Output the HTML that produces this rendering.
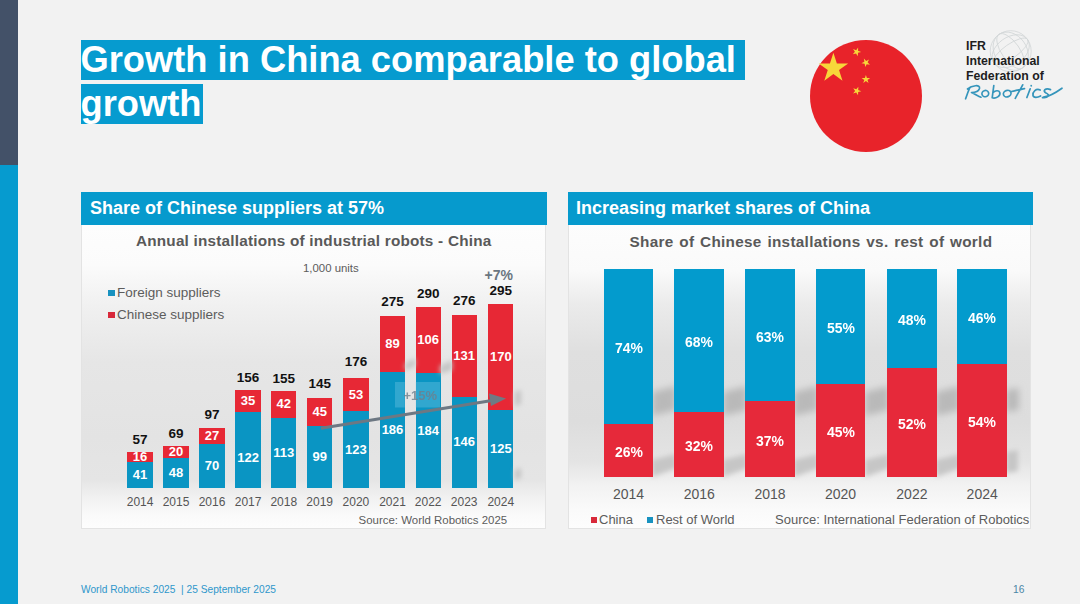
<!DOCTYPE html>
<html><head><meta charset="utf-8">
<style>
*{margin:0;padding:0;box-sizing:border-box}
html,body{width:1080px;height:604px;overflow:hidden;background:#f2f2f2;font-family:"Liberation Sans",sans-serif}
.abs{position:absolute}
#lbar1{left:0;top:0;width:18px;height:165px;background:#435168}
#lbar2{left:0;top:165px;width:18px;height:439px;background:#069bcf}
.ttl{left:81.3px;font-weight:bold;font-size:36.3px;line-height:40px;height:40px;color:#fff;white-space:nowrap}
.ttl span{background:#069bcf;display:inline-block;vertical-align:top;height:40px;line-height:40px;padding-left:0;text-indent:-0.8px}
.hdr{top:192px;height:32.5px;background:#069acd;color:#fff;font-weight:bold;font-size:18px;line-height:32px;white-space:nowrap}
.panel{top:224.5px;height:304.3px;border:1.5px solid #e3e3e3;border-top:none}
#pl{background:linear-gradient(180deg,#fdfdfd 0%,#fbfbfb 13%,#f0f0f0 27%,#e6e6e6 45%,#e3e3e3 70%,#e5e5e5 84%,#f1f1f1 90%,#fafafa 96%,#fdfdfd 100%)}
#pr{background:linear-gradient(180deg,#fdfdfd 0%,#fafafa 15%,#ebebeb 26%,#dfdfdf 42%,#dddddd 65%,#e4e4e4 78%,#f2f2f2 86%,#fafafa 94%,#fdfdfd 100%)}
.t{position:absolute;white-space:nowrap}
.foot{top:584px;font-size:10.2px;color:#2f97cb}
.bar{position:absolute}
.lv,.lt,.ly,.rv,.ry{position:absolute;width:40px;text-align:center;line-height:16px;white-space:nowrap}
.lv{color:#fff;font-weight:bold;font-size:13px}
.lt{color:#111;font-weight:bold;font-size:13.5px}
.ly{color:#555;font-size:12px}
.rv{width:60px;color:#fff;font-weight:bold;font-size:15px;transform:scaleX(0.93)}
.ry{width:60px;color:#555;font-size:14px}
.ctitle{color:#595959;font-weight:bold;font-size:15.3px}
.cs{color:#5c5c5c;font-size:13px}
.sq{position:absolute;width:6px;height:6px}
</style></head><body>
<div id="lbar1" class="abs"></div>
<div id="lbar2" class="abs"></div>

<div class="abs ttl" style="top:40px"><span style="width:663.5px">Growth in China comparable to global</span></div>
<div class="abs ttl" style="top:84px"><span style="width:121.5px">growth</span></div>

<!-- flag -->
<svg class="abs" style="left:800px;top:30px" width="132" height="132" viewBox="800 30 132 132">
<defs><polygon id="st" points="0,-1 0.2245,-0.309 0.9511,-0.309 0.3633,0.118 0.5878,0.809 0,0.382 -0.5878,0.809 -0.3633,0.118 -0.9511,-0.309 -0.2245,-0.309"/></defs>
<circle cx="866" cy="96" r="56" fill="#e8232a"/>
<use href="#st" transform="translate(833.4,68.2) scale(15.5)" fill="#f7d73a"/>
<use href="#st" transform="translate(856.6,51.8) rotate(20) scale(4.5)" fill="#f7d73a"/>
<use href="#st" transform="translate(865.9,62.6) rotate(45) scale(4.5)" fill="#f7d73a"/>
<use href="#st" transform="translate(865.9,79.4) rotate(0) scale(4.5)" fill="#f7d73a"/>
<use href="#st" transform="translate(856.8,91) rotate(20) scale(4.5)" fill="#f7d73a"/>
</svg>

<!-- IFR logo -->
<svg class="abs" style="left:960px;top:25px" width="110" height="85" viewBox="960 25 110 85">
<g fill="none" stroke="#d2d6d7" stroke-width="0.8">
<circle cx="1010.7" cy="51.2" r="20.5"/>
<ellipse cx="1010.7" cy="51.2" rx="9" ry="20.5" transform="rotate(-35 1010.7 51.2)"/>
<ellipse cx="1010.7" cy="51.2" rx="16" ry="20.5" transform="rotate(-35 1010.7 51.2)"/>
<ellipse cx="1010.7" cy="51.2" rx="20.5" ry="7" transform="rotate(-35 1010.7 51.2)"/>
<ellipse cx="1010.7" cy="51.2" rx="20.5" ry="14" transform="rotate(-35 1010.7 51.2)"/>
</g>
<g fill="none" stroke="#3595bb" stroke-width="1.7" stroke-linecap="round" stroke-linejoin="round">
<path d="M965.6 98.8 C967 95 968.5 90 970.2 87.1 M967.5 89 C972 85.5 980.5 84 979.5 88.5 C978.5 91.5 974 92.5 971.5 92.5 C975 94 978 96 981 97.2"/>
<ellipse cx="985.3" cy="93.6" rx="3.4" ry="3.1" transform="rotate(-20 985.3 93.6)"/>
<path d="M993.8 85.5 L992.2 97.8 C996 98.8 1000.8 96 999.8 92.5 C998.8 89.8 995.2 90.5 993.2 92.5"/>
<ellipse cx="1007.2" cy="93.6" rx="3.9" ry="3.2" transform="rotate(-20 1007.2 93.6)"/>
<path d="M1022.7 84.8 C1020 90 1017 95 1015.3 98.3 M1011.5 91.5 C1016 90.5 1021 89.2 1024.5 88.6"/>
<path d="M1030.2 88.8 L1026.9 97.5 M1031.2 85.6 L1031.3 85.8"/>
<path d="M1040.2 90 C1036 88 1032.5 92 1033 95.5 C1033.5 98 1037.5 97.6 1040.6 96"/>
<path d="M1050.5 89.6 C1045.5 87.5 1042 91 1046 93 C1050.5 95 1048 98.3 1042.5 97.6 M1043.5 97.2 C1050 96.2 1056 92.5 1062 88.2"/>
</g>
</svg>
<div class="t" style="left:966px;top:38.5px;font-weight:bold;font-size:12.3px;line-height:15px;color:#1e1e1e">IFR<br>International<br>Federation of</div>

<!-- left panel -->
<div class="abs hdr" style="left:81px;width:466px;padding-left:9px">Share of Chinese suppliers at 57%</div>
<div id="pl" class="abs panel" style="left:81px;width:465px"></div>
<div class="t ctitle" style="left:136px;top:231.5px;word-spacing:0.1px;letter-spacing:0.2px">Annual installations of industrial robots - China</div>
<div class="t cs" style="left:303px;top:261.7px;font-size:11.4px">1,000 units</div>
<div class="sq" style="left:108px;top:289.5px;width:6.5px;height:6.5px;background:#1892c0"></div>
<div class="t cs" style="left:117px;top:284.5px;font-size:13.5px">Foreign suppliers</div>
<div class="sq" style="left:108px;top:311.5px;width:6.5px;height:6.5px;background:#d8293a"></div>
<div class="t cs" style="left:117px;top:306.5px;font-size:13.5px">Chinese suppliers</div>
<div class="t" style="left:484.5px;top:267px;font-size:14px;font-weight:bold;color:#6a7580">+7%</div>
<div class="bar" style="left:127.4px;top:452.4px;width:25.4px;height:12px;background:#e72835"></div>
<div class="bar" style="left:127.4px;top:462.4px;width:25.4px;height:25.6px;background:#0a95c3"></div>
<div class="lv" style="left:120.1px;top:467.2px">41</div>
<div class="lv" style="left:120.1px;top:449.4px">16</div>
<div class="lt" style="left:120.1px;top:432.2px">57</div>
<div class="ly" style="left:120.1px;top:494.2px">2014</div>
<div class="bar" style="left:163.3px;top:445.6px;width:25.4px;height:14.5px;background:#e72835"></div>
<div class="bar" style="left:163.3px;top:458px;width:25.4px;height:30px;background:#0a95c3"></div>
<div class="lv" style="left:156px;top:465px">48</div>
<div class="lv" style="left:156px;top:443.8px">20</div>
<div class="lt" style="left:156px;top:425.7px">69</div>
<div class="ly" style="left:156px;top:494.2px">2015</div>
<div class="bar" style="left:199.3px;top:427.5px;width:25.4px;height:18.8px;background:#e72835"></div>
<div class="bar" style="left:199.3px;top:444.3px;width:25.4px;height:43.7px;background:#0a95c3"></div>
<div class="lv" style="left:192px;top:458.2px">70</div>
<div class="lv" style="left:192px;top:427.9px">27</div>
<div class="lt" style="left:192px;top:407.2px">97</div>
<div class="ly" style="left:192px;top:494.2px">2016</div>
<div class="bar" style="left:235.4px;top:390px;width:25.4px;height:23.8px;background:#e72835"></div>
<div class="bar" style="left:235.4px;top:411.9px;width:25.4px;height:76.1px;background:#0a95c3"></div>
<div class="lv" style="left:228.1px;top:449.7px">122</div>
<div class="lv" style="left:228.1px;top:393px">35</div>
<div class="lt" style="left:228.1px;top:370px">156</div>
<div class="ly" style="left:228.1px;top:494.2px">2017</div>
<div class="bar" style="left:271.1px;top:391.3px;width:25.4px;height:28.2px;background:#e72835"></div>
<div class="bar" style="left:271.1px;top:417.5px;width:25.4px;height:70.5px;background:#0a95c3"></div>
<div class="lv" style="left:263.8px;top:444.7px">113</div>
<div class="lv" style="left:263.8px;top:396.4px">42</div>
<div class="lt" style="left:263.8px;top:370.6px">155</div>
<div class="ly" style="left:263.8px;top:494.2px">2018</div>
<div class="bar" style="left:307px;top:398.1px;width:25.4px;height:30.1px;background:#e72835"></div>
<div class="bar" style="left:307px;top:426.2px;width:25.4px;height:61.8px;background:#0a95c3"></div>
<div class="lv" style="left:299.7px;top:449.1px">99</div>
<div class="lv" style="left:299.7px;top:404.2px">45</div>
<div class="lt" style="left:299.7px;top:375.7px">145</div>
<div class="ly" style="left:299.7px;top:494.2px">2019</div>
<div class="bar" style="left:343.2px;top:378.2px;width:25.4px;height:35.1px;background:#e72835"></div>
<div class="bar" style="left:343.2px;top:411.2px;width:25.4px;height:76.8px;background:#0a95c3"></div>
<div class="lv" style="left:335.9px;top:441.6px">123</div>
<div class="lv" style="left:335.9px;top:386.7px">53</div>
<div class="lt" style="left:335.9px;top:354.4px">176</div>
<div class="ly" style="left:335.9px;top:494.2px">2020</div>
<div class="bar" style="left:379.8px;top:316.4px;width:25.4px;height:57.5px;background:#e72835"></div>
<div class="bar" style="left:379.8px;top:371.9px;width:25.4px;height:116.1px;background:#0a95c3"></div>
<div class="lv" style="left:372.5px;top:422px">186</div>
<div class="lv" style="left:372.5px;top:336.2px">89</div>
<div class="lt" style="left:372.5px;top:293.7px">275</div>
<div class="ly" style="left:372.5px;top:494.2px">2021</div>
<div class="bar" style="left:415.5px;top:307px;width:25.4px;height:68.1px;background:#e72835"></div>
<div class="bar" style="left:415.5px;top:373.2px;width:25.4px;height:114.8px;background:#0a95c3"></div>
<div class="lv" style="left:408.2px;top:422.6px">184</div>
<div class="lv" style="left:408.2px;top:332.1px">106</div>
<div class="lt" style="left:408.2px;top:285.6px">290</div>
<div class="ly" style="left:408.2px;top:494.2px">2022</div>
<div class="bar" style="left:451.5px;top:315.2px;width:25.4px;height:83.7px;background:#e72835"></div>
<div class="bar" style="left:451.5px;top:396.9px;width:25.4px;height:91.1px;background:#0a95c3"></div>
<div class="lv" style="left:444.2px;top:434.4px">146</div>
<div class="lv" style="left:444.2px;top:348px">131</div>
<div class="lt" style="left:444.2px;top:292.5px">276</div>
<div class="ly" style="left:444.2px;top:494.2px">2023</div>
<div class="bar" style="left:488.1px;top:303.9px;width:25.4px;height:108.1px;background:#e72835"></div>
<div class="bar" style="left:488.1px;top:410px;width:25.4px;height:78px;background:#0a95c3"></div>
<div class="lv" style="left:480.8px;top:441px">125</div>
<div class="lv" style="left:480.8px;top:349px">170</div>
<div class="lt" style="left:480.8px;top:282.6px">295</div>
<div class="ly" style="left:480.8px;top:494.2px">2024</div>
<svg class="abs" style="left:0;top:0" width="1080" height="604">
<rect x="395" y="382" width="9.8" height="25.5" fill="#8fd0ea" fill-opacity="0.3"/><rect x="415.5" y="382" width="24.5" height="25.5" fill="#8fd0ea" fill-opacity="0.3"/>
<line x1="321" y1="428.2" x2="492" y2="400.5" stroke="#6d7883" stroke-width="3.1"/>
<polygon points="506,398.5 489,393.5 491,406" fill="#6f7a84"/>
</svg>
<div class="t" style="left:403.5px;top:388px;font-size:13px;color:#6f7f8c;opacity:0.8;font-weight:bold">+15%</div>
<div class="t cs" style="left:358.6px;top:514px;font-size:11.45px">Source: World Robotics 2025</div>

<!-- right panel -->
<div class="abs hdr" style="left:568px;width:465px;padding-left:8px">Increasing market shares of China</div>
<div id="pr" class="abs panel" style="left:568px;width:463px"></div>
<div class="t ctitle" style="left:629.5px;top:233px;word-spacing:1.2px;letter-spacing:0.3px">Share of Chinese installations vs. rest of world</div>
<svg class="abs" style="left:0;top:0" width="1080" height="604">
<defs><filter id="bl" x="-50%" y="-50%" width="200%" height="200%"><feGaussianBlur stdDeviation="3.5"/></filter>
<filter id="bl2" x="-50%" y="-50%" width="200%" height="200%"><feGaussianBlur stdDeviation="2.5"/></filter></defs>
<g filter="url(#bl)" fill="#b9b9b9">
<polygon points="652,392 676,386 676,410 652,416"/>
<polygon points="723,392 747,386 747,410 723,416"/>
<polygon points="794,392 818,386 818,410 794,416"/>
<polygon points="865,392 889,386 889,410 865,416"/>
<polygon points="936,392 960,386 960,410 936,416"/>
<polygon points="1006,390 1019,388 1019,410 1006,412"/>
</g>
<g filter="url(#bl2)" fill="#c6c6c6">
<polygon points="652,460 676,454 676,468 652,477"/>
<polygon points="723,460 747,454 747,468 723,477"/>
<polygon points="794,460 818,454 818,468 794,477"/>
<polygon points="865,460 889,454 889,468 865,477"/>
<polygon points="936,460 960,454 960,468 936,477"/>
<polygon points="1006,452 1018,450 1018,471 1006,473"/>
</g>
<g filter="url(#bl2)" fill="#c4c4c4">
<polygon points="440,366 452,360 452,370 440,374"/>
<polygon points="515,392 521,390 521,404 515,406"/>
<polygon points="515,470 521,468 521,478 515,480"/>
<polygon points="405,364 415,358 415,366 405,370"/>
</g>
</svg>
<div class="bar" style="left:603.6px;top:269.4px;width:49.8px;height:156.1px;background:#039bcd"></div>
<div class="bar" style="left:603.6px;top:423.5px;width:49.8px;height:53.5px;background:#e6293a"></div>
<div class="rv" style="left:598.5px;top:339.9px">74%</div>
<div class="rv" style="left:598.5px;top:443.8px">26%</div>
<div class="ry" style="left:598.5px;top:486px">2014</div>
<div class="bar" style="left:674.4px;top:269.4px;width:49.8px;height:144.6px;background:#039bcd"></div>
<div class="bar" style="left:674.4px;top:412px;width:49.8px;height:65px;background:#e6293a"></div>
<div class="rv" style="left:669.3px;top:334.2px">68%</div>
<div class="rv" style="left:669.3px;top:438px">32%</div>
<div class="ry" style="left:669.3px;top:486px">2016</div>
<div class="bar" style="left:745.1px;top:269.4px;width:49.8px;height:134px;background:#039bcd"></div>
<div class="bar" style="left:745.1px;top:401.4px;width:49.8px;height:75.6px;background:#e6293a"></div>
<div class="rv" style="left:740px;top:328.9px">63%</div>
<div class="rv" style="left:740px;top:432.7px">37%</div>
<div class="ry" style="left:740px;top:486px">2018</div>
<div class="bar" style="left:815.7px;top:269.4px;width:49.8px;height:116.4px;background:#039bcd"></div>
<div class="bar" style="left:815.7px;top:383.8px;width:49.8px;height:93.2px;background:#e6293a"></div>
<div class="rv" style="left:810.6px;top:320.1px">55%</div>
<div class="rv" style="left:810.6px;top:423.9px">45%</div>
<div class="ry" style="left:810.6px;top:486px">2020</div>
<div class="bar" style="left:887px;top:269.4px;width:49.8px;height:100.8px;background:#039bcd"></div>
<div class="bar" style="left:887px;top:368.2px;width:49.8px;height:108.8px;background:#e6293a"></div>
<div class="rv" style="left:881.9px;top:312.3px">48%</div>
<div class="rv" style="left:881.9px;top:416.1px">52%</div>
<div class="ry" style="left:881.9px;top:486px">2022</div>
<div class="bar" style="left:957.3px;top:269.4px;width:49.8px;height:96.4px;background:#039bcd"></div>
<div class="bar" style="left:957.3px;top:363.8px;width:49.8px;height:113.2px;background:#e6293a"></div>
<div class="rv" style="left:952.2px;top:310.1px">46%</div>
<div class="rv" style="left:952.2px;top:413.9px">54%</div>
<div class="ry" style="left:952.2px;top:486px">2024</div>
<div class="sq" style="left:590.6px;top:516.8px;background:#d8293a"></div>
<div class="t cs" style="left:599px;top:511.7px">China</div>
<div class="sq" style="left:647px;top:516.8px;background:#1892c0"></div>
<div class="t cs" style="left:656px;top:511.7px">Rest of World</div>
<div class="t cs" style="left:775px;top:512px">Source: International Federation of Robotics</div>

<div class="abs t foot" style="left:81px">World Robotics 2025 &nbsp;| 25 September 2025</div>
<div class="abs t foot" style="left:1013px;color:#4a86a6">16</div>
</body></html>
